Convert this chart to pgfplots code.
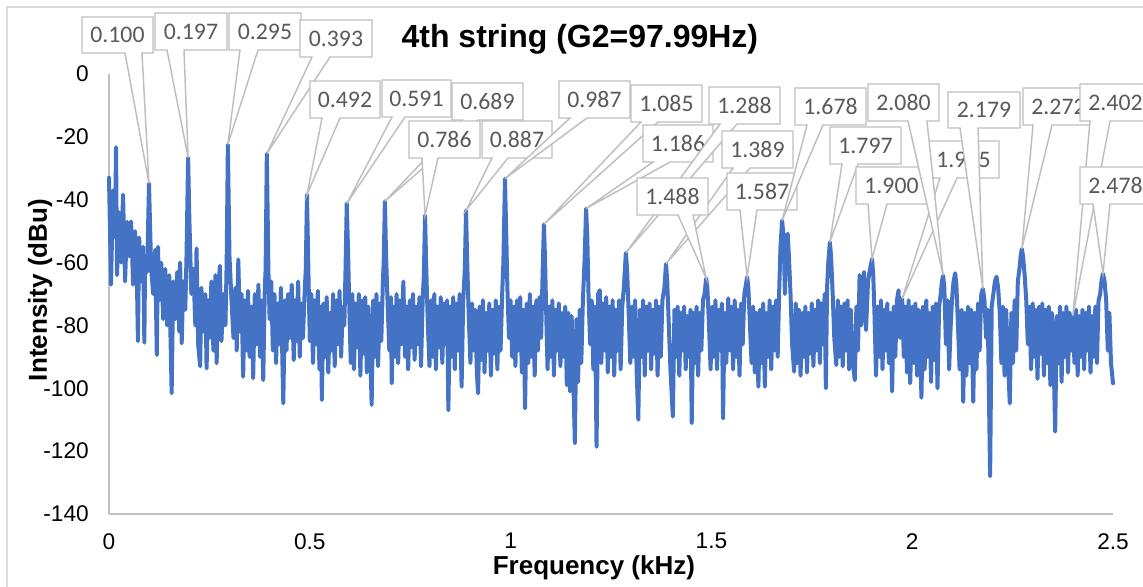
\documentclass[border=0pt]{standalone}
\usepackage{pgfplots}
\pgfplotsset{compat=1.18}
\usepackage{fontspec}
\setmainfont{Liberation Sans}
\newfontfamily\calib{Carlito}
\definecolor{series}{RGB}{68,114,196}
\definecolor{callgray}{RGB}{191,191,191}
\definecolor{calltxt}{RGB}{89,89,89}
\definecolor{axgray}{RGB}{191,191,191}
\definecolor{bordergray}{RGB}{217,217,217}
\tikzset{
  callout/.style={draw=callgray, fill=white, line width=1.1pt, line join=miter},
  calltext/.style={text=calltxt, font=\calib\fontsize{17.8}{20}\selectfont, inner sep=0pt}
}
\newcommand{\callout}[8]{%
  \draw[callout] (#1,#2) -- (#3,#2) -- (#3,#4) -- (#6,#4) -- (#7) -- (#5,#4) -- (#1,#4) -- cycle;
  \node[calltext] at ({(#1+#3)/2},{(#2+#4)/2}) {#8};
}
\begin{document}
\begin{tikzpicture}
\useasboundingbox (0,0) rectangle (857.25pt,-439.5pt);
\clip (0,0) rectangle (857.25pt,-439.5pt);
\begin{axis}[
  at={(81.75pt,-385.5pt)}, anchor=south west,
  scale only axis, width=753pt, height=330pt,
  xmin=0, xmax=2.5, ymin=-140, ymax=0,
  axis x line=bottom, axis y line=left,
  axis line style={axgray, line width=1.1pt, -},
  xtick={0,0.5,1,1.5,2,2.5}, xticklabels={0,0.5,1,1.5,2,2.5},
  ytick={-140,-120,-100,-80,-60,-40,-20,0},
  yticklabels={-140,-120,-100,-80,-60,-40,-20,0},
  major tick length=0pt,
  tick label style={font=\fontsize{17}{20}\selectfont, text=black},
  xticklabel style={anchor=north, inner sep=0pt, yshift=-14.25pt},
  yticklabel style={anchor=east, inner sep=0pt, xshift=-15pt},
  clip=false,
  title={4th string (G2=97.99Hz)},
  title style={font=\fontsize{24}{28}\selectfont\bfseries, at={(axis description cs:0.469,1.061)}, anchor=center},
  xlabel={Frequency (kHz)},
  xlabel style={font=\fontsize{19.5}{23}\selectfont\bfseries, inner sep=0pt, at={(axis description cs:0.483,-0.122)}, anchor=center},
  ylabel={Intensity (dBu)},
  ylabel style={font=\fontsize{19.5}{23}\selectfont\bfseries, inner sep=0pt, at={(axis description cs:-0.0687,0.509)}, anchor=center},
]
\addplot[series, line width=3pt, line join=round, line cap=round] coordinates {
(0,-33)(0.005,-67)(0.01,-37)(0.015,-52)(0.0175,-23.3)(0.02,-64)(0.025,-44)(0.03,-60)(0.035,-38.4)(0.04,-66)
(0.045,-47)(0.05,-58)(0.055,-46.9)(0.06,-67)(0.065,-50)(0.07,-69)(0.072,-85)(0.075,-52)(0.08,-66)(0.085,-55)
(0.088,-85.5)(0.09,-58)(0.095,-63)(0.0996,-34.8)(0.105,-62)(0.11,-70)(0.115,-56)(0.119,-89.4)(0.122,-55)(0.125,-72)
(0.13,-60)(0.135,-78)(0.14,-62)(0.145,-80)(0.15,-64)(0.156,-101.6)(0.16,-66)(0.165,-78)(0.17,-63)(0.175,-82)
(0.177,-60)(0.181,-85.7)(0.185,-66)(0.19,-75)(0.193,-58)(0.197,-26.6)(0.2,-45.5)(0.205,-70)(0.21,-62)(0.215,-80)
(0.218,-55.5)(0.222,-86)(0.227,-93)(0.23,-68)(0.235,-82)(0.24,-70)(0.243,-93.7)(0.247,-72)(0.25,-84)(0.255,-66)
(0.26,-88)(0.265,-64)(0.268,-92)(0.272,-70)(0.276,-61)(0.28,-85)(0.285,-70)(0.29,-80)(0.293,-60)(0.296,-22.4)
(0.3,-58)(0.305,-72)(0.31,-84)(0.315,-68)(0.318,-88)(0.322,-59)(0.326,-82)(0.33,-70)(0.334,-96.3)(0.338,-72)
(0.342,-88)(0.346,-69)(0.35,-90)(0.355,-74)(0.359,-96.8)(0.363,-70)(0.368,-86)(0.372,-67)(0.376,-90)(0.38,-72)
(0.384,-97.4)(0.388,-68)(0.39,-62)(0.393,-25.3)(0.397,-63)(0.4,-78)(0.404,-66)(0.408,-88)(0.412,-70)(0.416,-92)
(0.42,-73)(0.424,-86)(0.428,-68)(0.434,-104.8)(0.438,-72)(0.442,-88)(0.446,-70)(0.45,-84)(0.455,-67)(0.46,-91)
(0.463,-72)(0.467,-85)(0.471,-66)(0.475,-90)(0.479,-73)(0.483,-84)(0.487,-70)(0.49,-62)(0.493,-38.4)(0.497,-66)
(0.5,-85)(0.504,-70)(0.508,-92)(0.512,-72)(0.516,-86)(0.52,-69)(0.524,-94)(0.528,-74)(0.53,-103.7)(0.534,-73)
(0.538,-90)(0.542,-71)(0.546,-95)(0.55,-76)(0.554,-88)(0.558,-70)(0.562,-93)(0.566,-72)(0.57,-86)(0.574,-69)
(0.578,-90)(0.582,-74)(0.586,-80)(0.589,-62)(0.592,-41.2)(0.595,-55)(0.598,-72)(0.602,-92)(0.606,-70)(0.61,-94)
(0.614,-73)(0.618,-87)(0.622,-70)(0.626,-96)(0.63,-72)(0.634,-89)(0.638,-71)(0.642,-95)(0.646,-74)(0.65,-86)
(0.654,-105.3)(0.658,-72)(0.662,-90)(0.666,-70)(0.67,-93)(0.674,-73)(0.678,-85)(0.682,-66)(0.684,-60)(0.687,-40.5)
(0.69,-58)(0.694,-74)(0.698,-88)(0.702,-71)(0.704,-98.4)(0.708,-74)(0.712,-90)(0.716,-70)(0.72,-92)(0.724,-72)
(0.728,-86)(0.733,-66)(0.737,-90)(0.741,-74)(0.745,-94)(0.749,-72)(0.753,-87)(0.757,-70)(0.761,-91)(0.765,-74)
(0.769,-86)(0.773,-71)(0.777,-93)(0.781,-72)(0.784,-64)(0.787,-45)(0.79,-62)(0.794,-80)(0.798,-93)(0.802,-72)
(0.806,-90)(0.81,-70)(0.814,-94)(0.818,-74)(0.822,-87)(0.826,-71)(0.83,-92)(0.834,-73)(0.838,-86)(0.842,-72)
(0.845,-107)(0.849,-74)(0.853,-90)(0.857,-71)(0.861,-94)(0.865,-73)(0.869,-88)(0.873,-70)(0.878,-99.5)(0.882,-72)
(0.886,-62)(0.889,-43.4)(0.892,-60)(0.896,-78)(0.9,-92)(0.904,-73)(0.908,-88)(0.912,-75)(0.916,-95)(0.919,-101.6)
(0.923,-74)(0.927,-91)(0.931,-72)(0.935,-95)(0.939,-76)(0.943,-88)(0.947,-73)(0.951,-96)(0.955,-75)(0.959,-89)
(0.963,-72)(0.967,-94)(0.971,-74)(0.975,-88)(0.979,-70)(0.982,-60)(0.986,-33.3)(0.989,-50)(0.992,-68)(0.996,-84)
(1,-72)(1.004,-90)(1.008,-74)(1.012,-93)(1.016,-72)(1.02,-88)(1.024,-71)(1.028,-95)(1.032,-75)(1.036,-106.4)
(1.04,-73)(1.044,-92)(1.048,-70)(1.052,-90)(1.056,-74)(1.06,-96)(1.064,-72)(1.068,-88)(1.072,-71)(1.076,-84)
(1.08,-62)(1.083,-47.8)(1.086,-60)(1.089,-78)(1.092,-94)(1.096,-74)(1.1,-90)(1.104,-72)(1.108,-96)(1.112,-75)
(1.116,-88)(1.12,-73)(1.124,-93)(1.128,-76)(1.132,-90)(1.136,-74)(1.14,-99)(1.144,-76)(1.148,-101)(1.152,-77)
(1.156,-96)(1.16,-117.5)(1.164,-78)(1.168,-98)(1.172,-75)(1.176,-92)(1.18,-72)(1.184,-60)(1.188,-42.8)(1.191,-52)
(1.194,-70)(1.198,-86)(1.202,-72)(1.206,-94)(1.21,-74)(1.214,-118.6)(1.218,-70)(1.222,-68.8)(1.226,-92)(1.23,-73)
(1.234,-88)(1.238,-71)(1.242,-95)(1.246,-74)(1.25,-90)(1.254,-72)(1.258,-96)(1.262,-75)(1.266,-88)(1.27,-72)
(1.274,-94)(1.278,-74)(1.282,-68)(1.287,-56.9)(1.29,-62)(1.294,-76)(1.298,-92)(1.302,-74)(1.306,-90)(1.31,-72)
(1.314,-95)(1.318,-110)(1.322,-75)(1.326,-90)(1.33,-72)(1.334,-96)(1.338,-74)(1.342,-88)(1.346,-73)(1.35,-94)
(1.354,-75)(1.358,-89)(1.362,-72)(1.366,-96)(1.37,-74)(1.374,-90)(1.378,-72)(1.383,-68)(1.387,-60.4)(1.39,-66)
(1.394,-80)(1.398,-94)(1.404,-109)(1.408,-75)(1.412,-90)(1.416,-74)(1.42,-96)(1.424,-76)(1.428,-88)(1.432,-74)
(1.436,-94)(1.44,-77)(1.444,-90)(1.448,-75)(1.451,-111.1)(1.455,-76)(1.459,-92)(1.463,-74)(1.467,-96)(1.471,-76)
(1.475,-88)(1.479,-72)(1.483,-70)(1.487,-65)(1.49,-68)(1.494,-80)(1.498,-94)(1.502,-74)(1.506,-90)(1.51,-72)
(1.514,-94)(1.518,-75)(1.522,-88)(1.526,-73)(1.529,-109.6)(1.533,-76)(1.537,-92)(1.542,-71.4)(1.546,-88)(1.55,-74)
(1.554,-94)(1.558,-72)(1.562,-90)(1.566,-75)(1.57,-96)(1.574,-73)(1.578,-86)(1.582,-70)(1.586,-67)(1.589,-64.6)
(1.592,-68)(1.596,-80)(1.6,-92)(1.604,-74)(1.608,-95)(1.612,-76)(1.617,-99.5)(1.621,-75)(1.625,-92)(1.629,-73)
(1.633,-99.5)(1.637,-76)(1.641,-90)(1.645,-72)(1.649,-94)(1.653,-74)(1.657,-88)(1.661,-72)(1.665,-90)(1.669,-68)
(1.672,-55)(1.676,-46.6)(1.68,-52)(1.683,-70)(1.686,-56)(1.69,-50.8)(1.693,-58)(1.697,-70)(1.701,-86)(1.706,-94.7)
(1.71,-73)(1.714,-92)(1.718,-75)(1.722,-96)(1.726,-76)(1.73,-90)(1.734,-74)(1.738,-95)(1.742,-76)(1.746,-89)
(1.75,-73)(1.754,-93)(1.758,-75)(1.762,-88)(1.766,-72)(1.77,-92)(1.774,-73)(1.778,-86)(1.782,-70)(1.785,-100)
(1.788,-68)(1.791,-60)(1.795,-53.5)(1.798,-58)(1.802,-70)(1.806,-84)(1.811,-92.6)(1.815,-72)(1.819,-90)(1.823,-74)
(1.827,-93)(1.831,-73)(1.835,-88)(1.839,-72)(1.843,-94)(1.847,-75)(1.851,-90)(1.857,-97.4)(1.861,-74)(1.865,-88)
(1.869,-64)(1.873,-80)(1.877,-66)(1.88,-63)(1.885,-81.5)(1.89,-66)(1.895,-62)(1.9,-58.8)(1.903,-64)(1.906,-76)
(1.91,-96)(1.914,-74)(1.918,-90)(1.922,-72)(1.926,-94)(1.93,-75)(1.934,-88)(1.938,-73)(1.942,-92)(1.946,-76)
(1.95,-101)(1.954,-74)(1.958,-90)(1.962,-72)(1.966,-68.8)(1.97,-84)(1.975,-71.5)(1.979,-90)(1.983,-74)(1.987,-95)
(1.991,-72)(1.995,-98.4)(2,-74)(2.004,-92)(2.008,-73)(2.012,-96)(2.016,-75)(2.02,-88)(2.023,-103)(2.027,-74)
(2.031,-94)(2.035,-72)(2.039,-90)(2.043,-76)(2.047,-98)(2.051,-74)(2.055,-91)(2.059,-73)(2.063,-100)(2.067,-74)
(2.071,-70)(2.074,-66)(2.077,-64.1)(2.08,-68)(2.084,-86)(2.088,-72)(2.092,-94)(2.095,-82.5)(2.099,-72)(2.103,-66)
(2.107,-63.4)(2.11,-67)(2.114,-80)(2.118,-94)(2.123,-75)(2.127,-104.3)(2.131,-76)(2.135,-96)(2.139,-74)(2.143,-92)
(2.147,-75)(2.152,-104.3)(2.156,-76)(2.16,-94)(2.164,-73)(2.168,-88)(2.172,-70)(2.176,-68.3)(2.18,-72)(2.184,-84)
(2.188,-75)(2.194,-128)(2.198,-74)(2.202,-70)(2.206,-66)(2.21,-64.5)(2.214,-68)(2.218,-76)(2.222,-92)(2.226,-74)
(2.23,-96)(2.234,-75)(2.238,-90)(2.243,-104.8)(2.247,-76)(2.251,-92)(2.255,-72)(2.259,-88)(2.263,-66)(2.267,-62)
(2.27,-58)(2.273,-55.6)(2.276,-58)(2.28,-64)(2.284,-72)(2.288,-86)(2.292,-74)(2.296,-94)(2.3,-73)(2.304,-90)
(2.308,-75)(2.312,-97)(2.316,-74)(2.32,-89)(2.324,-73)(2.328,-96)(2.332,-75)(2.336,-92)(2.34,-74)(2.344,-99)
(2.348,-76)(2.352,-90)(2.356,-113.8)(2.36,-77)(2.364,-92)(2.368,-74)(2.372,-98)(2.376,-76)(2.38,-90)(2.384,-74)
(2.388,-95)(2.392,-76)(2.396,-88)(2.4,-76.9)(2.404,-92)(2.408,-75)(2.412,-96)(2.416,-77)(2.42,-90)(2.424,-75)
(2.428,-94)(2.432,-76)(2.436,-88)(2.44,-74)(2.444,-95)(2.448,-77)(2.452,-90)(2.456,-74)(2.46,-92)(2.464,-72)
(2.468,-70)(2.471,-66)(2.475,-63.5)(2.479,-66)(2.483,-72)(2.487,-88)(2.491,-76)(2.495,-92)(2.5,-98.4)
};
\coordinate (ta) at (axis cs:0.0996,-34.8);
\coordinate (tb) at (axis cs:0.197,-26.6);
\coordinate (tc) at (axis cs:0.296,-22.4);
\coordinate (td) at (axis cs:0.393,-25.3);
\coordinate (te) at (axis cs:0.493,-38.4);
\coordinate (tf) at (axis cs:0.592,-41.2);
\coordinate (tg) at (axis cs:0.687,-40.5);
\coordinate (th) at (axis cs:0.787,-45);
\coordinate (ti) at (axis cs:0.889,-43.4);
\coordinate (tj) at (axis cs:0.986,-33.3);
\coordinate (tk) at (axis cs:1.083,-47.8);
\coordinate (tl) at (axis cs:1.188,-42.8);
\coordinate (tm) at (axis cs:1.287,-56.9);
\coordinate (tn) at (axis cs:1.387,-60.4);
\coordinate (to) at (axis cs:1.487,-65);
\coordinate (tp) at (axis cs:1.589,-64.6);
\coordinate (tq) at (axis cs:1.676,-46.6);
\coordinate (tr) at (axis cs:1.795,-53.5);
\coordinate (ts) at (axis cs:1.9,-58.8);
\coordinate (tt) at (axis cs:1.975,-71.5);
\coordinate (tu) at (axis cs:2.077,-64.1);
\coordinate (tv) at (axis cs:2.176,-68.3);
\coordinate (tw) at (axis cs:2.273,-55.6);
\coordinate (tx) at (axis cs:2.4,-76.9);
\coordinate (ty) at (axis cs:2.475,-63.5);
\end{axis}
\begin{scope}[x=0.75pt,y=-0.75pt]
\draw[bordergray, line width=1pt] (7,590) -- (7,7) -- (1150,7);
\callout{82}{17}{153}{53}{125}{142}{ta}{0.100}
\callout{155}{13}{227}{50}{167}{184}{tb}{0.197}
\callout{229}{13}{301}{50}{240}{258}{tc}{0.295}
\callout{300}{20}{372}{57}{312}{330}{td}{0.393}
\callout{310}{81}{380}{118}{322}{340}{te}{0.492}
\callout{382}{80}{451}{117}{392}{405}{tf}{0.591}
\callout{452}{83}{523}{120}{462}{478}{tg}{0.689}
\callout{409}{121}{480}{158}{422}{438}{th}{0.786}
\callout{482}{121}{552}{158}{492}{508}{ti}{0.887}
\callout{559}{81}{630}{118}{570}{587}{tj}{0.987}
\callout{631}{85}{702}{122}{641}{658}{tk}{1.085}
\callout{643}{125}{713}{162}{653}{670}{tl}{1.186}
\callout{709}{87}{780}{124}{720}{737}{tm}{1.288}
\callout{722}{131}{793}{168}{733}{750}{tn}{1.389}
\callout{637}{178}{708}{215}{678}{693}{to}{1.488}
\callout{727}{173}{797}{210}{740}{757}{tp}{1.587}
\callout{795}{88}{866}{125}{807}{823}{tq}{1.678}
\callout{830}{127}{901}{164}{842}{858}{tr}{1.797}
\callout{856}{167}{927}{204}{868}{887}{ts}{1.900}
\callout{928}{141}{999}{178}{940}{957}{tt}{1.975}
\callout{868}{84}{939}{121}{908}{927}{tu}{2.080}
\callout{948}{92}{1020}{128}{960}{978}{tv}{2.179}
\callout{1023}{88}{1094}{125}{1033}{1052}{tw}{2.272}
\callout{1080}{84}{1151}{121}{1090}{1110}{tx}{2.402}
\callout{1080}{167}{1151}{204}{1093}{1110}{ty}{2.478}
\end{scope}
\end{tikzpicture}
\end{document}
